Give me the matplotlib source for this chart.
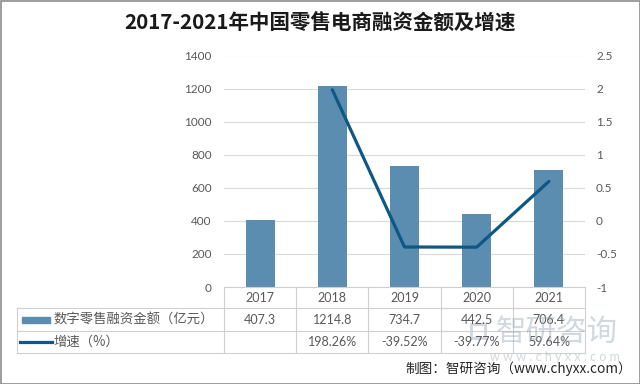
import matplotlib
matplotlib.use("Agg")
import matplotlib.pyplot as plt
from matplotlib.patches import Rectangle

plt.rcParams['font.family'] = ['Lato', 'Noto Sans CJK SC', 'DejaVu Sans']

years = ['2017', '2018', '2019', '2020', '2021']
amount = [407.3, 1214.8, 734.7, 442.5, 706.4]
growth_labels = ['', '198.26%', '-39.52%', '-39.77%', '59.64%']
growth = [None, 1.9826, -0.3952, -0.3977, 0.5964]
left_ticks = [0, 200, 400, 600, 800, 1000, 1200, 1400]
right_ticks = [-1, -0.5, 0, 0.5, 1, 1.5, 2, 2.5]
title = '2017-2021年中国零售电商融资金额及增速'
series1 = '数字零售融资金额（亿元）'
series2 = '增速（%）'
source = '制图：智研咨询（www.chyxx.com）'

W, H = 640, 384
bar_color = '#5b8db0'
line_color = '#0f5784'
grid_color = '#d9d9d9'
text_color = '#595959'

fig = plt.figure(figsize=(6.4, 3.84), dpi=100)

x0, x1 = 224, 585
ytop, ybot = 55.5, 287
ax = fig.add_axes([x0 / W, 1 - ybot / H, (x1 - x0) / W, (ybot - ytop) / H])
xs = list(range(len(years)))
ax.bar(xs, amount, width=0.4, color=bar_color, zorder=2)
ax.set_xlim(-0.5, len(years) - 0.5)
ax.set_ylim(0, 1400)
ax.set_yticks(left_ticks)
ax.set_yticklabels([str(t) for t in left_ticks])
ax.tick_params(axis='y', length=0, labelsize=8.5, colors=text_color, pad=9)
ax.set_xticks([])
ax.grid(axis='y', color=grid_color, lw=0.8, zorder=0)
for s in ax.spines.values():
    s.set_visible(False)

ax2 = ax.twinx()
gx = [x for x, g in zip(xs, growth) if g is not None]
gy = [g for g in growth if g is not None]
ax2.plot(gx, gy, color=line_color, lw=2.3, zorder=3, solid_capstyle='round')
ax2.set_ylim(-1, 2.5)
ax2.set_yticks(right_ticks)
ax2.set_yticklabels([f'{t:g}' for t in right_ticks])
ax2.tick_params(axis='y', length=0, labelsize=8.5, colors=text_color, pad=8)
for s in ax2.spines.values():
    s.set_visible(False)

# overlay in pixel coords
ov = fig.add_axes([0, 0, 1, 1], zorder=5)
ov.set_xlim(0, W)
ov.set_ylim(H, 0)
ov.axis('off')
ov.patch.set_alpha(0)

# outer frame
ov.add_patch(Rectangle((0.5, 0.5), W - 1, H - 1, fill=False, ec='#8c8c8c', lw=1.2))

ov.text(320, 22, title, ha='center', va='center', fontsize=14.8, fontweight='bold',
        color='#1a1a1a', family=['Noto Sans CJK SC'])

# table
r0, r1, r2, r3 = 287, 308, 331, 353
lx = 17
colw = (x1 - x0) / len(years)
lc = '#d0d0d0'
ov.plot([x0, x1], [r0, r0], color=lc, lw=0.8)
for y in (r1, r2, r3):
    ov.plot([lx, x1], [y, y], color=lc, lw=0.8)
ov.plot([lx, lx], [r1, r3], color=lc, lw=0.8)
for i in range(len(years) + 1):
    xx = x0 + i * colw
    ov.plot([xx, xx], [r0, r3], color=lc, lw=0.8)

for i, yr in enumerate(years):
    cx = x0 + (i + 0.5) * colw
    ov.text(cx, (r0 + r1) / 2, yr, ha='center', va='center', fontsize=9, color=text_color)
    ov.text(cx, (r1 + r2) / 2, f'{amount[i]:.1f}', ha='center', va='center', fontsize=9, color=text_color)
    ov.text(cx, (r2 + r3) / 2, growth_labels[i], ha='center', va='center', fontsize=9, color=text_color)

ov.add_patch(Rectangle((22, 316.5), 28, 6, color=bar_color))
ov.text(54, (r1 + r2) / 2, series1, ha='left', va='center', fontsize=9.6, color=text_color,
        family=['Noto Sans CJK SC'])
ov.plot([20, 52], [341.5, 341.5], color=line_color, lw=2.3)
ov.text(53, (r2 + r3) / 2, series2, ha='left', va='center', fontsize=9.6, color=text_color,
        family=['Noto Sans CJK SC'])

# watermark
ov.text(557, 332, '智研咨询', ha='center', va='center', fontsize=22, color='#9aa9b8',
        alpha=0.45, family=['Noto Sans CJK SC'])
ov.text(555, 357, 'w w w . c h y x x . c o m', ha='center', va='center', fontsize=9,
        color='#9aa9b8', alpha=0.45)
ov.add_patch(Rectangle((471, 324), 14, 14, fill=False, ec='#9aa9b8', lw=2, alpha=0.45))

ov.text(632, 369, source, ha='right', va='center', fontsize=9.8, color='#262626',
        family=['Noto Sans CJK SC'])

fig.savefig('out.png', dpi=100)
